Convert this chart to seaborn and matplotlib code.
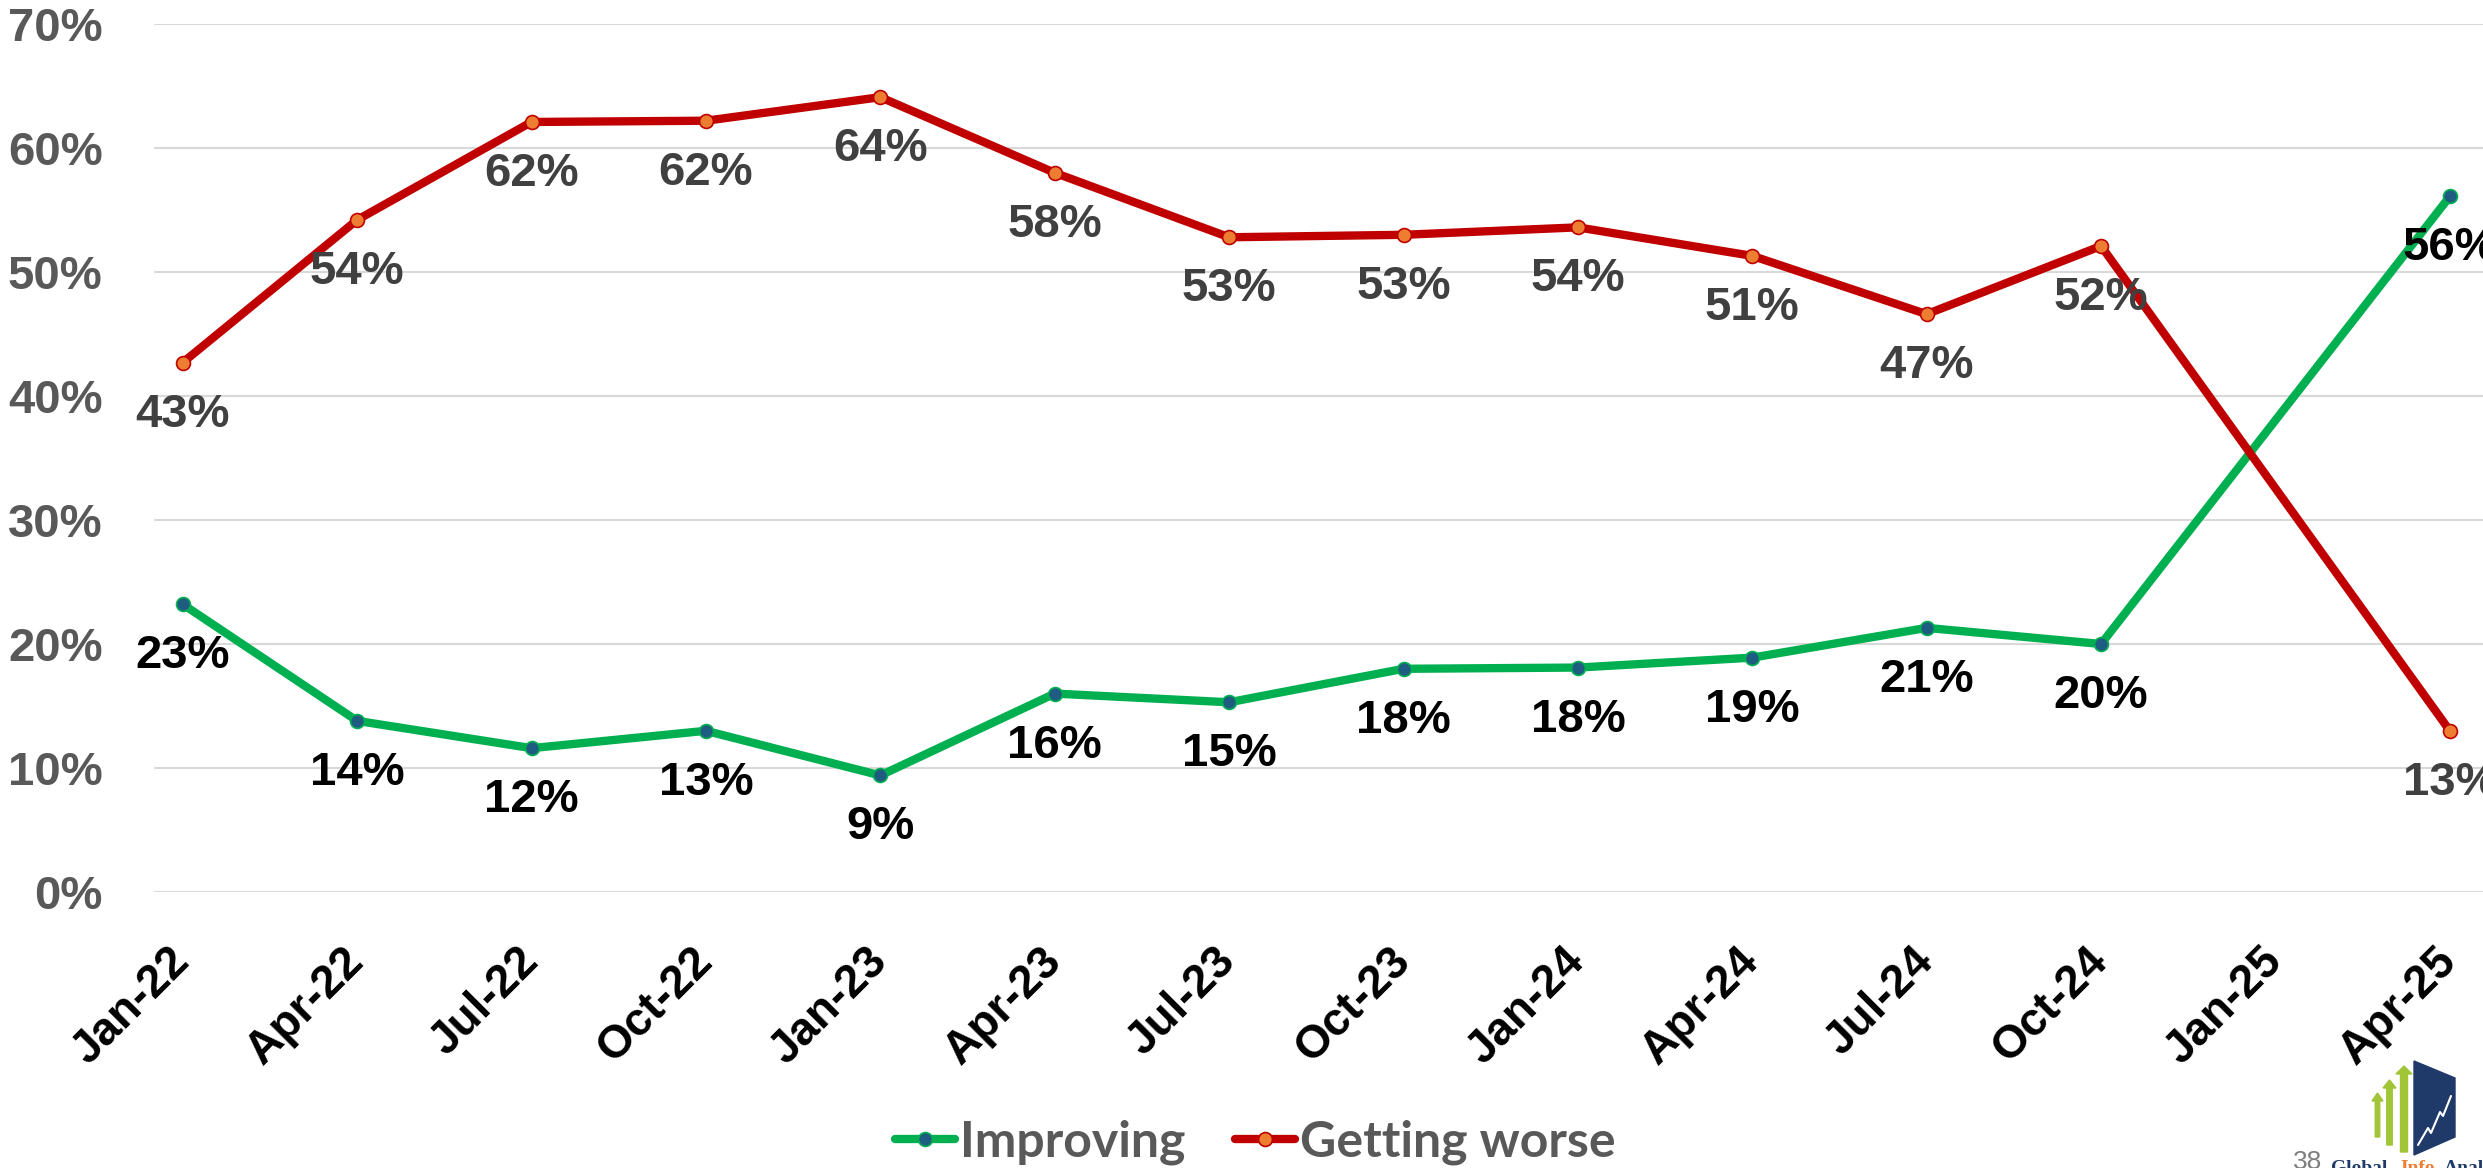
import numpy as np
import pandas as pd
import matplotlib
matplotlib.use('Agg')
import matplotlib.pyplot as plt
import matplotlib.patches as mpatches
import seaborn as sns

# Quarterly survey labels (Jan-25 had no reading)
periods = ['Jan-22', 'Apr-22', 'Jul-22', 'Oct-22', 'Jan-23', 'Apr-23', 'Jul-23',
           'Oct-23', 'Jan-24', 'Apr-24', 'Jul-24', 'Oct-24', 'Jan-25', 'Apr-25']
improving = [0.232, 0.138, 0.116, 0.130, 0.094, 0.160, 0.153,
             0.180, 0.181, 0.189, 0.213, 0.200, np.nan, 0.561]
getting_worse = [0.427, 0.542, 0.621, 0.622, 0.641, 0.580, 0.528,
                 0.530, 0.536, 0.513, 0.466, 0.521, np.nan, 0.130]
y_ticks = [0, 0.1, 0.2, 0.3, 0.4, 0.5, 0.6, 0.7]

W, H = 2483, 1168
sns.set_style('white')
plt.rcParams['font.family'] = ['Liberation Sans', 'DejaVu Sans']

df = pd.DataFrame({'pos': range(len(periods)), 'period': periods,
                   'Improving': improving, 'Getting worse': getting_worse})
df = df.dropna()

fig = plt.figure(figsize=(W / 100, H / 100), dpi=100)
ax = fig.add_axes([154 / W, (H - 892) / H, (W - 154) / W, (892 - 24) / H])

series = [('Improving', '#00B050', '#1F5C82', 'black'),
          ('Getting worse', '#C00000', '#ED7D31', '#404040')]
for name, color, face, lab_color in series:
    sns.lineplot(data=df, x='pos', y=name, ax=ax, color=color, linewidth=6,
                 marker='o', markersize=10, markerfacecolor=face,
                 markeredgecolor=color, markeredgewidth=1.2, label=name,
                 zorder=3)
    for x, v in zip(df['pos'], df[name]):
        ax.annotate(f'{v:.0%}', (x, v), xytext=(0, -52), textcoords='offset pixels',
                    ha='center', va='center', fontsize=34, fontweight='bold',
                    color=lab_color, zorder=4)

ax.set_xlim(-0.165, 13.19)
ax.set_ylim(0, 0.7)
ax.set_yticks(y_ticks)
ax.set_yticklabels([f'{t:.0%}' for t in y_ticks], fontsize=34, fontweight='bold',
                   color='#595959')
ax.set_xticks(range(len(periods)))
ax.set_xticklabels(periods, fontsize=33, fontweight='bold', color='black',
                   rotation=45, ha='right', va='center', rotation_mode='anchor')
ax.tick_params(axis='x', length=0, pad=45)
ax.tick_params(axis='y', length=0, pad=37)
ax.grid(axis='y', color='#D9D9D9', linewidth=1.5)
ax.grid(axis='x', visible=False)
for s in ax.spines.values():
    s.set_visible(False)
ax.set_xlabel('')
ax.set_ylabel('')
ax.get_legend().remove()

handles, labels = ax.get_legend_handles_labels()
fig.legend(handles, labels, loc='center', bbox_to_anchor=(1255 / W, 1 - 1142 / H),
           ncol=2, frameon=False, handlelength=1.2, handletextpad=0.1,
           columnspacing=1.0, numpoints=1,
           prop={'family': 'Lato', 'weight': 'bold', 'size': 36},
           labelcolor='#595959')

# small logo in the bottom-right corner (pixel coordinates)
lx = fig.add_axes([0, 0, 1, 1], facecolor='none')
lx.set_xlim(0, W)
lx.set_ylim(H, 0)
lx.axis('off')
for x0, x1, top, bot in [(2373, 2382, 1093, 1137), (2384, 2395, 1080, 1145),
                         (2397, 2411, 1066, 1152)]:
    w = x1 - x0
    lx.add_patch(mpatches.Polygon([(x0 + w * 0.25, bot), (x0 + w * 0.25, top + 8),
                                   (x0 - 1, top + 8), ((x0 + x1) / 2, top),
                                   (x1 + 1, top + 8), (x1 - w * 0.25, top + 8),
                                   (x1 - w * 0.25, bot)], color='#A2C437'))
lx.add_patch(mpatches.Polygon([(2414, 1061), (2455, 1078), (2455, 1137), (2414, 1155)],
                              color='#1F3A68'))
lx.plot([2418, 2428, 2431, 2440, 2443, 2451], [1145, 1128, 1133, 1112, 1116, 1096],
        color='white', linewidth=1.5)
lx.text(2293, 1150, '38', fontsize=19, color='#7F7F7F', va='top', ha='left')
lx.text(2331, 1160, 'Global', fontsize=14, fontweight='bold', color='#1F3A68',
        family='Liberation Serif', va='top', ha='left')
lx.text(2400, 1160, 'Info', fontsize=14, fontweight='bold', color='#ED7D31',
        family='Liberation Serif', va='top', ha='left')
lx.text(2444, 1160, 'Analytics', fontsize=14, fontweight='bold', color='#1F3A68',
        family='Liberation Serif', va='top', ha='left')

fig.savefig('out.png', dpi=100)
